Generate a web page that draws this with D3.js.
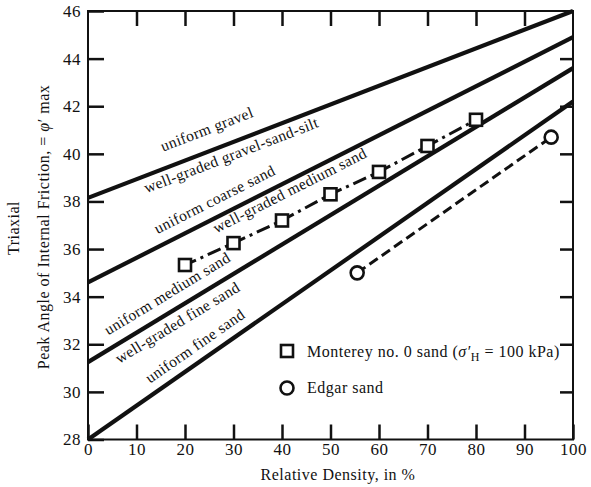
<!DOCTYPE html>
<html>
<head>
<meta charset="utf-8">
<script src="https://cdn.jsdelivr.net/npm/d3@7"></script>
<style>
  html, body { margin: 0; padding: 0; background: #fff; }
  svg { display: block; }
  text { font-family: "Liberation Serif", "DejaVu Serif", serif; fill: #111; }
</style>
</head>
<body>
<svg id="chart" width="591" height="487"></svg>
<script>
// ---------- data ----------
const xTicks = [0, 10, 20, 30, 40, 50, 60, 70, 80, 90, 100];
const yTicks = [28, 30, 32, 34, 36, 38, 40, 42, 44, 46];

// straight soil-type lines: [phi at Dr=0, phi at Dr=100]
const lineNames = ["gravel", "coarse", "medium", "fine"];
const lineStart = [38.15, 34.6, 31.25, 28.0];
const lineEnd   = [46.0, 44.9, 43.6, 42.2];

// text labels along lines
const labelText = ["uniform gravel", "well-graded gravel-sand-silt", "uniform coarse sand",
                   "well-graded medium sand", "uniform medium sand", "well-graded fine sand",
                   "uniform fine sand"];
const labelLine = [0, 0, 1, 1, 2, 2, 3];
const labelX = [24.9, 29.9, 26.6, 42.1, 16.9, 19.0, 22.7];
const labelY = [40.83, 39.74, 37.89, 38.27, 33.94, 32.72, 31.75];

// Monterey no. 0 sand
const montereyDr  = [20, 30, 40, 50, 60, 70, 80];
const montereyPhi = [35.33, 36.25, 37.2, 38.3, 39.24, 40.33, 41.43];
// Edgar sand
const edgarDr  = [55.5, 95.5];
const edgarPhi = [35.0, 40.7];

// ---------- layout ----------
const svg = d3.select("#chart");
const L = 88, R = 573, T = 11, B = 439.5;
const x = d3.scaleLinear().domain([0, 100]).range([L, R]);
const y = d3.scaleLinear().domain([28, 46]).range([B, T]);

// frame
svg.append("rect").attr("x", L).attr("y", T).attr("width", R - L).attr("height", B - T)
  .attr("fill", "none").attr("stroke", "#111").attr("stroke-width", 2);

const bottomAxis = svg.append("g").attr("transform", `translate(0,${B})`)
  .call(d3.axisBottom(x).tickValues(xTicks).tickSize(-15).tickPadding(3).tickFormat(d3.format("d")));
const topAxis = svg.append("g").attr("transform", `translate(0,${T})`)
  .call(d3.axisTop(x).tickValues(xTicks.slice(1, -1)).tickSize(-15).tickFormat(""));
const leftAxis = svg.append("g").attr("transform", `translate(${L},0)`)
  .call(d3.axisLeft(y).tickValues(yTicks).tickSize(-16).tickPadding(6).tickFormat(d3.format("d")));
const rightAxis = svg.append("g").attr("transform", `translate(${R},0)`)
  .call(d3.axisRight(y).tickValues(yTicks.slice(1, -1)).tickSize(-13).tickFormat(""));

[bottomAxis, topAxis, leftAxis, rightAxis].forEach(g => {
  g.select(".domain").remove();
  g.selectAll(".tick line").attr("stroke", "#111").attr("stroke-width", 2.5);
  g.selectAll(".tick text").attr("font-family", "Liberation Serif, DejaVu Serif, serif")
    .attr("font-size", 17).attr("fill", "#111").attr("letter-spacing", 0.5);
});
leftAxis.selectAll(".tick text").attr("dx", "-1");

// axis titles
svg.append("text").attr("x", 338).attr("y", 480).attr("text-anchor", "middle")
  .attr("font-size", 16).attr("letter-spacing", 0.5).text("Relative Density, in %");

svg.append("text").attr("transform", "translate(19,228) rotate(-90)").attr("text-anchor", "middle")
  .attr("font-size", 16).attr("letter-spacing", 0.5).text("Triaxial");

const yt = svg.append("text").attr("transform", "translate(49,227) rotate(-90)")
  .attr("text-anchor", "middle").attr("font-size", 16).attr("letter-spacing", 0.5);
yt.append("tspan").text("Peak Angle of Internal Friction, = ");
yt.append("tspan").attr("font-style", "italic").text("\u03C6");
yt.append("tspan").text("\u2032 max");

// soil lines
const segLine = d3.line().x(d => x(d[0])).y(d => y(d[1]));
const soilLines = lineNames.map((n, i) => [[0, lineStart[i]], [100, lineEnd[i]]]);
svg.append("g").selectAll("path").data(soilLines).join("path")
  .attr("d", segLine).attr("fill", "none").attr("stroke", "#111").attr("stroke-width", 4.2)
  .attr("stroke-linecap", "butt");

// labels
labelText.forEach((t, i) => {
  const li = labelLine[i];
  const ang = Math.atan2(y(lineEnd[li]) - y(lineStart[li]), x(100) - x(0)) * 180 / Math.PI;
  svg.append("text")
    .attr("transform", `translate(${x(labelX[i])},${y(labelY[i])}) rotate(${ang})`)
    .attr("text-anchor", "middle").attr("font-size", 15.5).attr("letter-spacing", 0.4).text(t);
});

// Monterey series
const monterey = montereyDr.map((d, i) => [d, montereyPhi[i]]);
svg.append("path").datum(monterey).attr("d", segLine).attr("fill", "none")
  .attr("stroke", "#111").attr("stroke-width", 3).attr("stroke-dasharray", "14,5,3,5")
  .attr("stroke-dashoffset", 2);
svg.append("g").selectAll("rect").data(monterey).join("rect")
  .attr("x", d => x(d[0]) - 6).attr("y", d => y(d[1]) - 6).attr("width", 12).attr("height", 12)
  .attr("fill", "#fff").attr("stroke", "#111").attr("stroke-width", 2.6);

// Edgar series
const edgar = edgarDr.map((d, i) => [d, edgarPhi[i]]);
svg.append("path").datum(edgar).attr("d", segLine).attr("fill", "none")
  .attr("stroke", "#111").attr("stroke-width", 3).attr("stroke-dasharray", "10,5");
svg.append("g").selectAll("circle").data(edgar).join("circle")
  .attr("cx", d => x(d[0])).attr("cy", d => y(d[1])).attr("r", 6.5)
  .attr("fill", "#fff").attr("stroke", "#111").attr("stroke-width", 2.6);

// legend
const lg = svg.append("g");
lg.append("rect").attr("x", 281).attr("y", 345).attr("width", 12).attr("height", 12)
  .attr("fill", "#fff").attr("stroke", "#111").attr("stroke-width", 2.6);
const lt = lg.append("text").attr("x", 307).attr("y", 357).attr("font-size", 16).attr("letter-spacing", 0.5);
lt.append("tspan").text("Monterey no. 0 sand (");
lt.append("tspan").attr("font-style", "italic").text("\u03C3\u2032");
lt.append("tspan").attr("font-size", 12).attr("dy", 4).text("H");
lt.append("tspan").attr("dy", -4).text(" = 100 kPa)");
lg.append("circle").attr("cx", 287).attr("cy", 388).attr("r", 6.5)
  .attr("fill", "#fff").attr("stroke", "#111").attr("stroke-width", 2.6);
lg.append("text").attr("x", 307).attr("y", 393).attr("font-size", 16).attr("letter-spacing", 0.5).text("Edgar sand");
</script>
</body>
</html>
